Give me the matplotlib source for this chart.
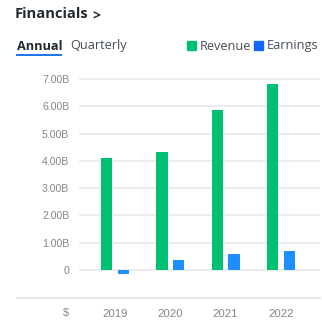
import matplotlib.pyplot as plt
from matplotlib.lines import Line2D
from matplotlib.patches import Rectangle
import numpy as np

# annual figures in billions
years = ['2019', '2020', '2021', '2022']
revenue = [4.10, 4.34, 5.86, 6.81]
earnings = [-0.15, 0.38, 0.60, 0.68]
ytick_vals = [0, 1, 2, 3, 4, 5, 6, 7]
ytick_labels = ['0', '1.00B', '2.00B', '3.00B', '4.00B', '5.00B', '6.00B', '7.00B']

W, H = 322, 327
fig = plt.figure(figsize=(W / 100, H / 100), dpi=100)

def fx(px):
    return px / W

def fy(py):
    return 1 - py / H

ax = fig.add_axes([fx(79), fy(298), fx(320) - fx(79), fy(60) - fy(298)])
x = np.arange(len(years))
ax.bar(x - 0.15, revenue, width=0.205, color='#00c073', zorder=3)
ax.bar(x + 0.15, earnings, width=0.205, color='#1e8fff', zorder=3)

ax.set_xlim(-0.651, 3.707)
ax.set_ylim(-1.026, 7.695)
for v in ytick_vals:
    ax.axhline(v, color='#ececec', lw=1.4, zorder=1)
ax.set_yticks(ytick_vals)
ax.set_yticklabels(ytick_labels)
ax.set_xticks(x)
ax.set_xticklabels(years)
ax.tick_params(length=0, colors='#858585', labelsize=7.6)
ax.tick_params(axis='x', labelsize=8.2, pad=8)
ax.tick_params(axis='y', pad=7)
for lbl in ax.get_xticklabels() + ax.get_yticklabels():
    lbl.set_fontfamily('Liberation Sans')
for s in ax.spines.values():
    s.set_visible(False)

# baseline under the chart
fig.add_artist(Line2D([fx(17), fx(320)], [fy(298), fy(298)], color='#e8e8e8', lw=1.6))
fig.text(fx(66), fy(313), '$', ha='center', va='center', color='#858585',
         fontsize=7.8, family='Liberation Sans')

# header and tabs
fig.text(fx(15), fy(14), 'Financials', ha='left', va='center', fontsize=10.6,
         fontweight='bold', color='#232a31', family='Open Sans')
fig.text(fx(92), fy(15), '>', ha='left', va='center', fontsize=10,
         fontweight='bold', color='#232a31', family='Open Sans')
fig.text(fx(17), fy(46), 'Annual', ha='left', va='center', fontsize=9.2,
         fontweight='bold', color='#232a31', family='Open Sans')
fig.add_artist(Line2D([fx(17), fx(61)], [fy(54.5), fy(54.5)], color='#1a73e8', lw=1.4))
fig.text(fx(70), fy(46), 'Quarterly', ha='left', va='center', fontsize=9.2,
         color='#464e56', family='Open Sans')

# legend
fig.add_artist(Rectangle((fx(187), fy(50)), fx(9), fy(41) - fy(50),
                         color='#00c073', transform=fig.transFigure))
fig.text(fx(200), fy(46), 'Revenue', ha='left', va='center', fontsize=9.2,
         color='#464e56', family='Open Sans')
fig.add_artist(Rectangle((fx(254), fy(50)), fx(9), fy(41) - fy(50),
                         color='#1268ff', transform=fig.transFigure))
fig.text(fx(267), fy(46), 'Earnings', ha='left', va='center', fontsize=9.2,
         color='#464e56', family='Open Sans')

fig.savefig('out.png', dpi=100, facecolor='white')
